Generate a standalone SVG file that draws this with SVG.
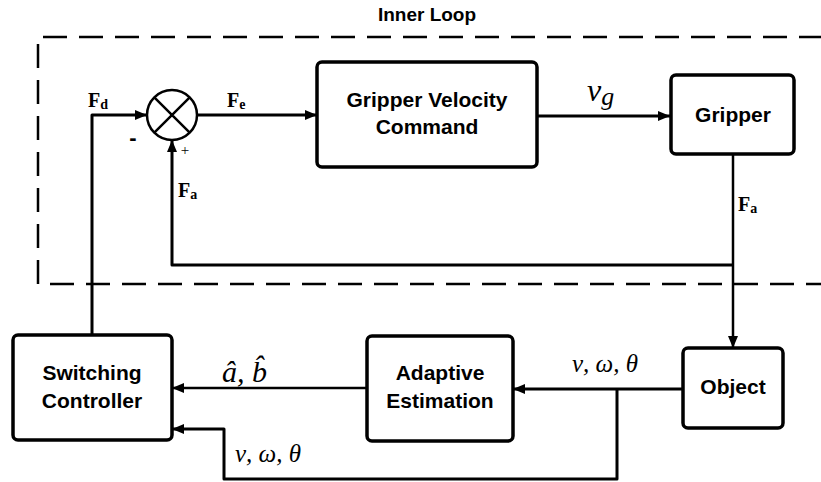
<svg xmlns="http://www.w3.org/2000/svg" width="821" height="482" viewBox="0 0 821 482">
<defs>
<marker id="ah" viewBox="0 0 12 10" refX="12" refY="5" markerWidth="12" markerHeight="10" markerUnits="userSpaceOnUse" orient="auto">
<path d="M0,0 L12,5 L0,10 Z" fill="#000"/>
</marker>
<style>
.box{fill:#fff;stroke:#000;stroke-width:3.5}
.lbl{font-family:"Liberation Sans",Arial,sans-serif;font-weight:bold;font-size:21px;text-anchor:middle;fill:#000}
.ln{fill:none;stroke:#000;stroke-width:3;stroke-linejoin:round}
.thin{fill:none;stroke:#000;stroke-width:2.5;stroke-linejoin:round}
.sf{font-family:"Liberation Serif","Times New Roman",serif;font-weight:bold;font-size:20px;fill:#000}
.math{font-family:"Liberation Serif","Times New Roman",serif;font-style:italic;fill:#000}
</style>
</defs>
<rect width="821" height="482" fill="#fff"/>
<g id="inner-loop">
<path d="M823,37 H38 V284 H823" fill="none" stroke="#000" stroke-width="2.5" stroke-dasharray="24 12"/>
<text x="427" y="21" class="lbl" style="font-size:19px">Inner Loop</text>
</g>
<g id="connectors">
<path class="ln" d="M92,335 V115 H147" marker-end="url(#ah)"/>
<path class="ln" d="M197,115 H317" marker-end="url(#ah)"/>
<path class="ln" d="M537,116 H670" marker-end="url(#ah)"/>
<path class="thin" d="M733,154 V348" marker-end="url(#ah)"/>
<path class="ln" d="M733,265 H172 V140" marker-end="url(#ah)"/>
<path class="thin" d="M367,388 H172" marker-end="url(#ah)"/>
<path class="ln" d="M683,389 H513" marker-end="url(#ah)"/>
<path class="ln" d="M617,389 V479 H224 V429 H172" marker-end="url(#ah)"/>
</g>
<g id="sum">
<circle cx="172" cy="115" r="25" fill="#fff" stroke="#000" stroke-width="2.5"/>
<path d="M154.3,97.3 L189.7,132.7 M189.7,97.3 L154.3,132.7" stroke="#000" stroke-width="2.5"/>
<text x="133" y="145" class="lbl" style="font-size:22px">-</text>
<text x="185" y="155" font-family="Liberation Serif,serif" font-size="15" text-anchor="middle" fill="#000">+</text>
</g>
<g id="gvc">
<rect class="box" x="317" y="62" width="220" height="105" rx="5"/>
<text class="lbl" x="427" y="107">Gripper Velocity</text>
<text class="lbl" x="427" y="134">Command</text>
</g>
<g id="gripper">
<rect class="box" x="671" y="75" width="123" height="79" rx="5"/>
<text class="lbl" x="733" y="122">Gripper</text>
</g>
<g id="object">
<rect class="box" x="683" y="348" width="100" height="80" rx="5"/>
<text class="lbl" x="733" y="394">Object</text>
</g>
<g id="adaptive">
<rect class="box" x="367" y="336" width="146" height="105" rx="5"/>
<text class="lbl" x="440" y="380">Adaptive</text>
<text class="lbl" x="440" y="408">Estimation</text>
</g>
<g id="switching">
<rect class="box" x="13" y="335" width="159" height="105" rx="5"/>
<text class="lbl" x="92" y="380">Switching</text>
<text class="lbl" x="92" y="408">Controller</text>
</g>
<g id="labels">
<text class="sf" x="88" y="107">F<tspan font-size="14" dy="2">d</tspan></text>
<text class="sf" x="227" y="107">F<tspan font-size="14" dy="2">e</tspan></text>
<text class="sf" x="178" y="197">F<tspan font-size="14" dy="2">a</tspan></text>
<text class="sf" x="738" y="211">F<tspan font-size="14" dy="2">a</tspan></text>
<text class="math" x="587" y="101" font-size="32">ν<tspan font-size="26" dy="4">g</tspan></text>
<text class="math" x="222" y="382" font-size="30">â, b̂</text>
<text class="math" x="572" y="372" font-size="25">ν, ω, θ</text>
<text class="math" x="235" y="462" font-size="25">ν, ω, θ</text>
</g>
</svg>
